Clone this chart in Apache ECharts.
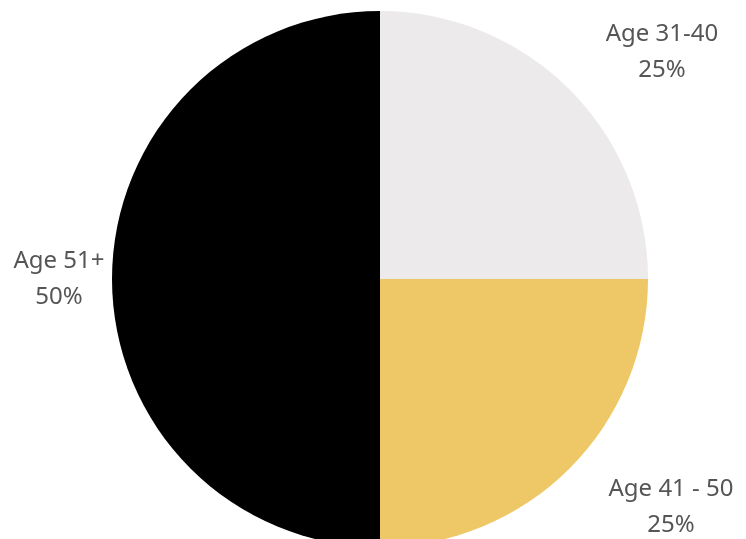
<!DOCTYPE html>
<html>
<head>
<meta charset="utf-8">
<script src="https://cdn.jsdelivr.net/npm/echarts@6/dist/echarts.min.js"></script>
<style>
  html, body { margin: 0; padding: 0; background: #fff; }
  #age { width: 746px; height: 539px; }
</style>
</head>
<body>
<div id="age"></div>
<script>
var ageGroups = ['Age 31-40', 'Age 41 - 50', 'Age 51+'];
var agePercent = [25, 25, 50];
var sliceColors = ['#ECEAEB', '#EEC866', '#000000'];
// where each label is centred (px)
var labelSpots = [[662, 52], [671, 507], [59, 279]];

function draw_age_pie() {
    var myChart = echarts.init(document.getElementById("age"));
    var pieData = [];
    for (var i = 0; i < ageGroups.length; i++) {
        pieData.push({
            value: agePercent[i],
            name: ageGroups[i],
            itemStyle: { color: sliceColors[i] }
        });
    }
    var option = {
        animation: false,
        series: [{
            type: 'pie',
            center: [380, 279],
            radius: 268,
            startAngle: 90,
            clockwise: true,
            data: pieData,
            itemStyle: { borderWidth: 0 },
            label: {
                show: true,
                position: 'outside',
                formatter: '{b}\n{c}%',
                color: '#555555',
                fontFamily: 'Noto Sans',
                fontSize: 24,
                lineHeight: 36,
                align: 'center',
                overflow: 'none'
            },
            labelLine: { show: false },
            labelLayout: function (params) {
                var p = labelSpots[params.dataIndex];
                return { x: p[0], y: p[1], align: 'center', verticalAlign: 'middle' };
            },
            emphasis: { disabled: true }
        }]
    };
    myChart.setOption(option);
}
draw_age_pie();
</script>
</body>
</html>
